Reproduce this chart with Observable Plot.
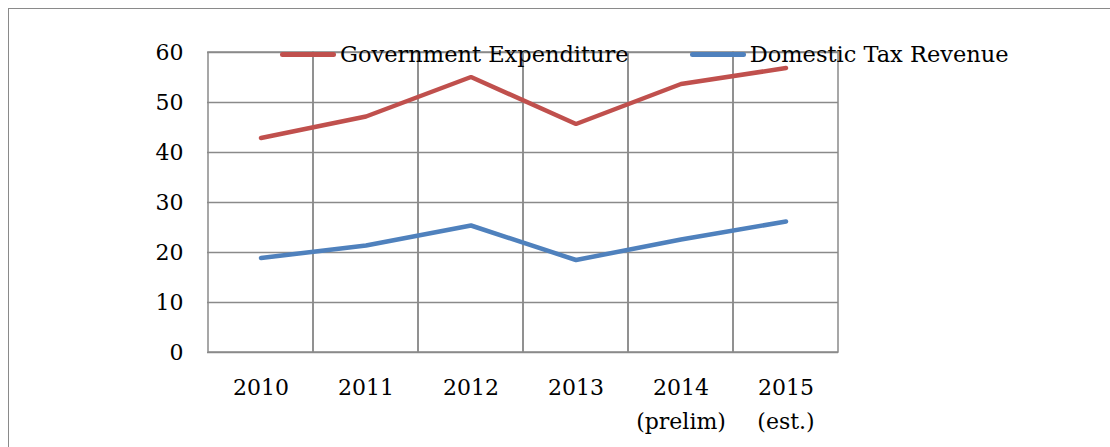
<!DOCTYPE html>
<html>
<head>
<meta charset="utf-8">
<script src="https://cdn.jsdelivr.net/npm/d3@7"></script>
<script src="https://cdn.jsdelivr.net/npm/@observablehq/plot@0.6"></script>
<style>
  html, body { margin: 0; padding: 0; background: #fff; }
  #wrap { position: relative; width: 1110px; height: 447px; overflow: hidden; }
  #frame { position: absolute; left: 8px; top: 8px; width: 1200px; height: 600px;
           border-left: 1.5px solid #8a8a8a; border-top: 1.5px solid #8a8a8a; }
  #legend { position: absolute; left: 280px; top: 41px; display: flex; align-items: center;
            font-family: "DejaVu Serif", serif; font-size: 22.5px; color: #000; white-space: nowrap; }
  .item { display: flex; align-items: center; }
  .sw { width: 56px; height: 5px; border-radius: 3px; margin-right: 4px; }
</style>
</head>
<body>
<div id="wrap">
  <div id="frame"></div>
  <div id="chart"></div>
  <div id="legend"></div>
</div>
<script>
const years = ["2010", "2011", "2012", "2013", "2014", "2015"];
const yearLabels = ["2010", "2011", "2012", "2013", "2014\n(prelim)", "2015\n(est.)"];
const govExpenditure = [42.9, 47.2, 55.1, 45.7, 53.7, 56.9];
const domesticTax = [18.9, 21.4, 25.4, 18.5, 22.6, 26.2];
const yTicks = [0, 10, 20, 30, 40, 50, 60];
const seriesNames = ["Government Expenditure", "Domestic Tax Revenue"];
const seriesColors = ["#C0504D", "#4F81BD"];

const rows = [];
years.forEach((yr, i) => {
  rows.push({year: yr, value: govExpenditure[i], series: seriesNames[0]});
  rows.push({year: yr, value: domesticTax[i], series: seriesNames[1]});
});
const labelOf = Object.fromEntries(years.map((y, i) => [y, yearLabels[i]]));
const grid = "#8a8a8a";

const chart = Plot.plot({
  width: 1110,
  height: 447,
  marginLeft: 207,
  marginRight: 272,
  marginTop: 52,
  marginBottom: 95,
  style: {fontFamily: "DejaVu Serif, serif", fontSize: "22px", color: "#000", background: "transparent"},
  x: {type: "band", domain: years, padding: 0},
  y: {domain: [0, 60]},
  color: {domain: seriesNames, range: seriesColors},
  marks: [
    Plot.ruleY(yTicks, {y: d => d, stroke: grid, strokeWidth: 1.5}),
    Plot.barY(years, {x: d => d, y1: 0, y2: 60, fill: "none", stroke: grid, strokeWidth: 1.5}),
    Plot.line(rows, {x: "year", y: "value", z: "series", stroke: "series", strokeWidth: 4.5, strokeLinecap: "round", strokeLinejoin: "miter"}),
    Plot.axisY(yTicks, {tickSize: 0, tickPadding: 24, fontSize: 22, label: null}),
    Plot.axisX(years, {tickSize: 0, tickPadding: 18, fontSize: 22, lineHeight: 1.55, label: null, tickFormat: d => labelOf[d]})
  ]
});
document.getElementById("chart").appendChild(chart);

const legend = document.getElementById("legend");
seriesNames.forEach((name, i) => {
  const item = document.createElement("div");
  item.className = "item";
  if (i > 0) item.style.marginLeft = "61px";
  const sw = document.createElement("div");
  sw.className = "sw";
  sw.style.background = seriesColors[i];
  const t = document.createElement("span");
  t.textContent = name;
  item.appendChild(sw);
  item.appendChild(t);
  legend.appendChild(item);
});
</script>
</body>
</html>
